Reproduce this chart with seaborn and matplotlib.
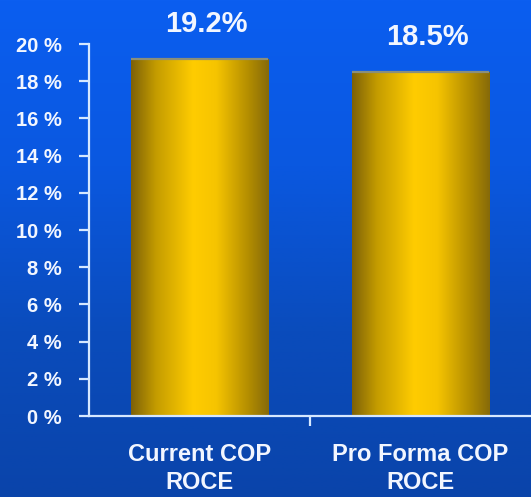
import numpy as np
import pandas as pd
import matplotlib
matplotlib.use("Agg")
import matplotlib.pyplot as plt
from matplotlib import font_manager
from matplotlib.colors import LinearSegmentedColormap
import seaborn as sns

categories = ["Current COP\nROCE", "Pro Forma COP\nROCE"]
roce = [19.2, 18.5]
value_labels = ["19.2%", "18.5%"]
y_ticks = [0, 2, 4, 6, 8, 10, 12, 14, 16, 18, 20]
y_tick_labels = [f"{t} %" for t in y_ticks]

df = pd.DataFrame({"category": categories, "roce": roce})

sns.set_style("white")
plt.rcParams["font.family"] = ["Liberation Sans", "DejaVu Sans"]

installed = {f.name for f in font_manager.fontManager.ttflist}
narrow = "Liberation Sans Narrow" if "Liberation Sans Narrow" in installed else None

W, H = 531, 497
fig = plt.figure(figsize=(W / 100, H / 100), dpi=100)

# blue slide background, brighter at the top
bg = fig.add_axes([0, 0, 1, 1], zorder=0)
bg_cmap = LinearSegmentedColormap.from_list(
    "bg", ["#0b5ef0", "#0a58e0", "#0a4cbc", "#0a44aa"])
bg.imshow(np.linspace(0, 1, 256)[:, None], aspect="auto", cmap=bg_cmap,
          extent=[0, 1, 0, 1])
bg.set_axis_off()

ax = fig.add_axes([89 / W, 1 - 416 / H, 1 - 89 / W, (416 - 44) / H], zorder=1)
ax.patch.set_alpha(0)

sns.barplot(data=df, x="category", y="roce", ax=ax, width=0.62,
            color="#ffcc00", saturation=1, edgecolor="none")

# metallic gold shading across each bar
gold = LinearSegmentedColormap.from_list(
    "gold", [(0.0, "#7d6108"), (0.18, "#c49c00"), (0.45, "#ffcc00"),
             (0.62, "#f6c400"), (0.85, "#b48e00"), (1.0, "#866a0a")])
shade = np.linspace(0, 1, 256)[None, :]
for p in ax.patches:
    x0, y0 = p.get_x(), p.get_y()
    w, h = p.get_width(), p.get_height()
    im = ax.imshow(shade, aspect="auto", cmap=gold,
                   extent=[x0, x0 + w, y0, y0 + h], zorder=2)
    im.set_clip_path(p)
    p.set_facecolor("none")
    ax.plot([x0, x0 + w], [y0 + h, y0 + h], color="#8a8f7a", lw=1.6,
            zorder=3, solid_capstyle="butt")

ax.set_xlim(-0.5, 1.5)
ax.set_ylim(0, 20)

for i, (v, lab) in enumerate(zip(roce, value_labels)):
    ax.text(i + 0.03, v + 1.85, lab, ha="center", va="center",
            color="#f2f6ff", fontsize=21, fontweight="bold", clip_on=False)

axis_color = "#d6e8ff"
for s in ["top", "right"]:
    ax.spines[s].set_visible(False)
for s in ["left", "bottom"]:
    ax.spines[s].set_color(axis_color)
    ax.spines[s].set_linewidth(1.6)

ax.set_yticks(y_ticks)
ax.set_yticklabels(y_tick_labels)
ax.set_xticks([0.5])
ax.set_xticklabels([""])
ax.tick_params(axis="y", direction="out", length=7.5, width=1.6,
               color=axis_color, labelcolor="#f2f6ff", pad=12, left=True)
ax.tick_params(axis="x", direction="out", length=7.5, width=1.6,
               color=axis_color, bottom=True)
for t in ax.get_yticklabels():
    t.set_fontweight("bold")
    if narrow:
        t.set_fontfamily([narrow, "DejaVu Sans"])
        t.set_fontsize(16.5)
    else:
        t.set_fontsize(14.5)

for i, c in enumerate(categories):
    ax.text(i, -1.45, c, ha="center", va="top", color="#f2f6ff",
            fontsize=17, fontweight="bold", linespacing=1.3,
            clip_on=False)

ax.set_xlabel("")
ax.set_ylabel("")

fig.savefig("out.png", dpi=100)
